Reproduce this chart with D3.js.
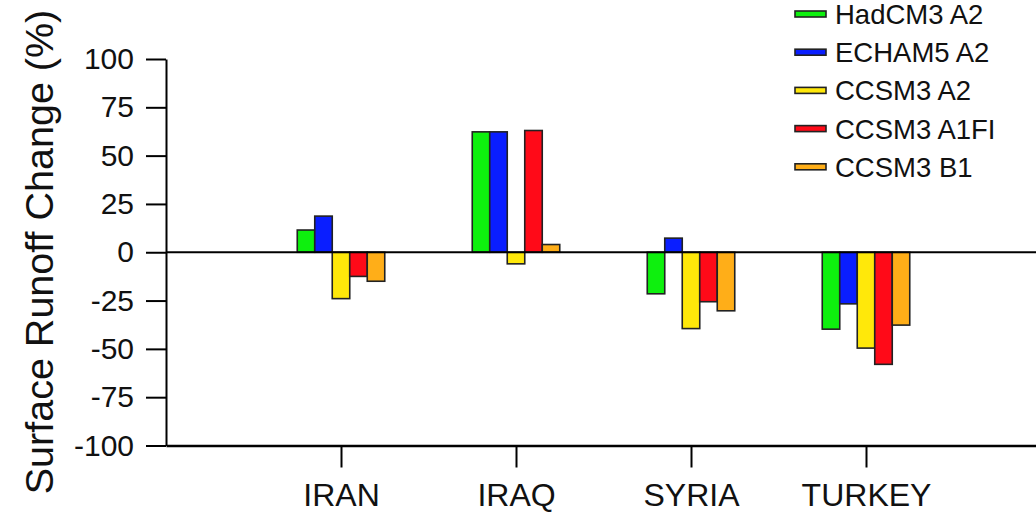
<!DOCTYPE html>
<html>
<head>
<meta charset="utf-8">
<script src="https://cdn.jsdelivr.net/npm/d3@7"></script>
<style>
  html, body { margin: 0; padding: 0; background: #fff; }
  svg { display: block; }
  text { font-family: "Liberation Sans", Arial, Helvetica, sans-serif; fill: #111; }
</style>
</head>
<body>
<svg id="chart" width="1036" height="519"></svg>
<script>
const countries = ["IRAN", "IRAQ", "SYRIA", "TURKEY"];
const seriesNames = ["HadCM3 A2", "ECHAM5 A2", "CCSM3 A2", "CCSM3 A1FI", "CCSM3 B1"];
const seriesColors = ["#0ef00e", "#0a1eff", "#ffe80a", "#ff0a18", "#ffae18"];
const hadcm3A2 = [11.5, 62.3, -21.5, -39.8];
const echam5A2 = [18.7, 62.3, 7.3, -26.7];
const ccsm3A2 = [-24, -6, -39.5, -49.6];
const ccsm3A1FI = [-12.5, 63, -25.6, -58];
const ccsm3B1 = [-15, 4, -30.3, -37.7];
const yTicks = [-100, -75, -50, -25, 0, 25, 50, 75, 100];
const yTitle = "Surface Runoff Change (%)";

const seriesValues = [hadcm3A2, echam5A2, ccsm3A2, ccsm3A1FI, ccsm3B1];

const svg = d3.select("#chart");
const x = d3.scaleLinear().domain([0, 5]).range([166, 1041]);
const y = d3.scaleLinear().domain([-100, 100]).range([445.5, 59]);
const barW = 0.1;

// Bars
seriesValues.forEach((vals, s) => {
  svg.append("g").selectAll("rect")
    .data(vals)
    .join("rect")
    .attr("x", (d, i) => x(i + 1 - 2.5 * barW + s * barW))
    .attr("width", x(barW) - x(0))
    .attr("y", d => y(Math.max(0, d)))
    .attr("height", d => Math.abs(y(d) - y(0)))
    .attr("fill", seriesColors[s])
    .attr("stroke", "#222")
    .attr("stroke-width", 1.6);
});

// zero line
svg.append("line")
  .attr("x1", x(0)).attr("x2", x(5))
  .attr("y1", y(0)).attr("y2", y(0))
  .attr("stroke", "#000").attr("stroke-width", 2);

// Y axis
const yAxis = svg.append("g")
  .attr("transform", `translate(${x(0)},0)`)
  .call(d3.axisLeft(y).tickValues(yTicks).tickSize(20).tickSizeOuter(0).tickPadding(12)
    .tickFormat(d => String(d)));
yAxis.select(".domain").attr("stroke-width", 2).attr("stroke", "#000");
yAxis.selectAll(".tick line").attr("stroke-width", 2).attr("stroke", "#000");
yAxis.selectAll(".tick text").style("font-size", "30px").attr("fill", "#111")
  .style("font-family", "'Liberation Sans', Arial, sans-serif");

// X axis
const xAxis = svg.append("g")
  .attr("transform", `translate(0,${y(-100)})`)
  .call(d3.axisBottom(x).tickValues([1, 2, 3, 4]).tickSize(22).tickSizeOuter(0).tickPadding(16)
    .tickFormat((d, i) => countries[i]));
xAxis.select(".domain").attr("stroke-width", 2.4).attr("stroke", "#000");
xAxis.selectAll(".tick line").attr("stroke-width", 2).attr("stroke", "#000");
xAxis.selectAll(".tick text").style("font-size", "32px").attr("fill", "#111")
  .style("font-family", "'Liberation Sans', Arial, sans-serif");

// Y title
svg.append("text")
  .attr("transform", "translate(53,252) rotate(-90)")
  .attr("text-anchor", "middle")
  .style("font-size", "39.5px")
  .text(yTitle);

// Legend
const legend = svg.append("g");
seriesNames.forEach((name, i) => {
  const cy = 14 + i * 38.2;
  legend.append("rect")
    .attr("x", 795).attr("y", cy - 3)
    .attr("width", 31).attr("height", 6)
    .attr("fill", seriesColors[i])
    .attr("stroke", "#222").attr("stroke-width", 1.6);
  legend.append("text")
    .attr("x", 835).attr("y", cy + 10)
    .style("font-size", "27.5px")
    .text(name);
});
</script>
</body>
</html>
